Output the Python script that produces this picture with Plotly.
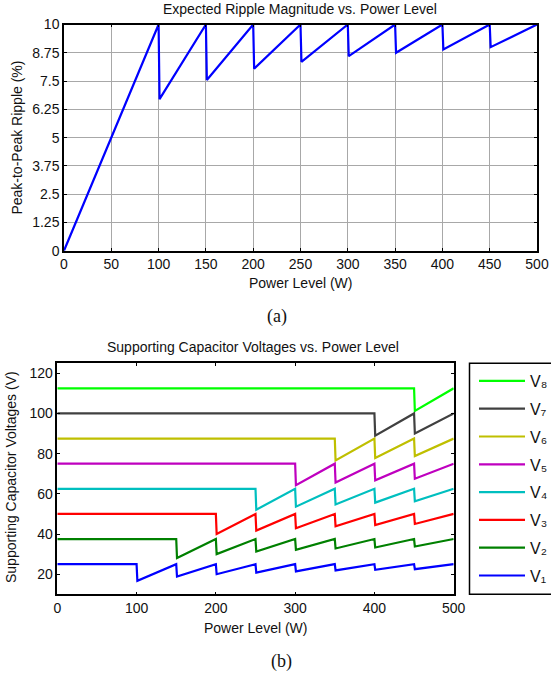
import plotly.graph_objects as go

W, H = 551, 679

# ---------- data ----------
# (a) expected ripple magnitude, vertices of the piecewise-linear curve
power_a = [0, 100, 101, 150, 151, 200, 201, 250, 251, 300, 301, 350, 351, 400, 401, 450, 451, 500]
ripple_a = [0, 10, 6.7, 10, 7.55, 10, 8.05, 10, 8.35, 10, 8.6, 10, 8.75, 10, 8.9, 10, 9.0, 10]

# (b) supporting capacitor voltages, vertices for each series
v1_x = [0, 100, 101, 150, 151, 200, 201, 250, 251, 300, 301, 350, 351, 400, 401, 450, 451, 500]
v1_y = [25, 25, 16.7, 25, 18.8, 25, 20, 25, 20.8, 25, 21.4, 25, 21.9, 25, 22.2, 25, 22.5, 25]
v2_x = [0, 150, 151, 200, 201, 250, 251, 300, 301, 350, 351, 400, 401, 450, 451, 500]
v2_y = [37.5, 37.5, 28.1, 37.5, 30, 37.5, 31.3, 37.5, 32.1, 37.5, 32.8, 37.5, 33.3, 37.5, 33.8, 37.5]
v3_x = [0, 200, 201, 250, 251, 300, 301, 350, 351, 400, 401, 450, 451, 500]
v3_y = [50, 50, 40, 50, 41.7, 50, 42.9, 50, 43.8, 50, 44.4, 50, 45, 50]
v4_x = [0, 250, 251, 300, 301, 350, 351, 400, 401, 450, 451, 500]
v4_y = [62.5, 62.5, 52.1, 62.5, 53.6, 62.5, 54.7, 62.5, 55.6, 62.5, 56.3, 62.5]
v5_x = [0, 300, 301, 350, 351, 400, 401, 450, 451, 500]
v5_y = [75, 75, 64.3, 75, 65.6, 75, 66.7, 75, 67.5, 75]
v6_x = [0, 350, 351, 400, 401, 450, 451, 500]
v6_y = [87.5, 87.5, 76.6, 87.5, 77.8, 87.5, 78.8, 87.5]
v7_x = [0, 400, 401, 450, 451, 500]
v7_y = [100, 100, 88.9, 100, 90, 100]
v8_x = [0, 450, 451, 500]
v8_y = [112.5, 112.5, 101.3, 112.5]

series_names = ["V₁", "V₂", "V₃", "V₄", "V₅", "V₆", "V₇", "V₈"]
series_x = [v1_x, v2_x, v3_x, v4_x, v5_x, v6_x, v7_x, v8_x]
series_y = [v1_y, v2_y, v3_y, v4_y, v5_y, v6_y, v7_y, v8_y]
series_colors = ["#0000ff", "#008000", "#ff0000", "#00bfbf",
                 "#bf00bf", "#bfbf00", "#404040", "#00ff00"]

ticks_a_x = [0, 50, 100, 150, 200, 250, 300, 350, 400, 450, 500]
ticks_a_y = [0, 1.25, 2.5, 3.75, 5, 6.25, 7.5, 8.75, 10]
ticks_a_y_text = ["0", "1.25", "2.5", "3.75", "5", "6.25", "7.5", "8.75", "10"]
ticks_b_x = [0, 100, 200, 300, 400, 500]
ticks_b_y = [20, 40, 60, 80, 100, 120]

# ---------- helpers ----------
def px(x):
    return x / W

def py(y):
    return 1 - y / H

FONT = "Liberation Sans, Arial, sans-serif"
SERIF = "Liberation Serif, Times New Roman, serif"

fig = go.Figure()

fig.add_trace(go.Scatter(x=power_a, y=ripple_a, mode="lines",
                         line=dict(color="#0000ff", width=2.2),
                         showlegend=False, xaxis="x", yaxis="y"))

# add V8 first so that the legend lists V8 at the top
for i in reversed(range(8)):
    fig.add_trace(go.Scatter(x=series_x[i], y=series_y[i], mode="lines",
                             name=series_names[i],
                             line=dict(color=series_colors[i], width=2.2),
                             legendgroup="g%d" % i,
                             xaxis="x2", yaxis="y2"))

axis_common = dict(showline=True, linecolor="black", linewidth=1.5, mirror="ticks",
                   ticks="inside", ticklen=3, tickcolor="black", tickwidth=1,
                   zeroline=False, tickfont=dict(family=FONT, size=14, color="#111"))

fig.update_layout(
    width=W, height=H,
    margin=dict(l=0, r=0, t=0, b=0, autoexpand=False),
    paper_bgcolor="white", plot_bgcolor="white",
    font=dict(family=FONT, size=14, color="#111"),
    xaxis=dict(domain=[px(64), px(537)], range=[0, 500], tickvals=ticks_a_x,
               showgrid=True, gridcolor="#a8a8a8", gridwidth=1, anchor="y", **axis_common),
    yaxis=dict(domain=[py(250.7), py(24.5)], range=[0, 10], tickvals=ticks_a_y,
               ticktext=ticks_a_y_text,
               showgrid=True, gridcolor="#a8a8a8", gridwidth=1, anchor="x", **axis_common),
    xaxis2=dict(domain=[px(57.3), px(453.7)], range=[0, 500], tickvals=ticks_b_x,
                showgrid=False, anchor="y2", **axis_common),
    yaxis2=dict(domain=[py(594.3), py(363.2)], range=[10, 125], tickvals=ticks_b_y,
                showgrid=False, anchor="x2", **axis_common),
    showlegend=True,
    legend=dict(x=px(474), xanchor="left", y=py(364), yanchor="top",
                traceorder="grouped", tracegroupgap=4,
                bgcolor="rgba(0,0,0,0)", borderwidth=0,
                font=dict(family=FONT, size=16, color="#111"),
                itemwidth=46),
)

# legend frame
fig.add_shape(type="rect", xref="paper", yref="paper",
              x0=px(469.5), x1=px(560), y0=py(594.3), y1=py(363.3),
              line=dict(color="black", width=1.5), fillcolor="rgba(0,0,0,0)")

ann = [
    dict(text="Expected Ripple Magnitude vs. Power Level", x=px(300), y=py(9), size=14, font=FONT),
    dict(text="Power Level (W)", x=px(300), y=py(283), size=14, font=FONT),
    dict(text="(a)", x=px(277), y=py(316), size=18, font=SERIF),
    dict(text="Supporting Capacitor Voltages vs. Power Level", x=px(253), y=py(347), size=14, font=FONT),
    dict(text="Power Level (W)", x=px(255.5), y=py(628), size=14, font=FONT),
    dict(text="(b)", x=px(281.5), y=py(661), size=18, font=SERIF),
]
for a in ann:
    fig.add_annotation(text=a["text"], x=a["x"], y=a["y"], xref="paper", yref="paper",
                       xanchor="center", yanchor="middle", showarrow=False,
                       font=dict(family=a["font"], size=a["size"], color="#111"))

fig.add_annotation(text="Peak-to-Peak Ripple (%)", x=px(17), y=py(137.6), xref="paper", yref="paper",
                   xanchor="center", yanchor="middle", showarrow=False, textangle=-90,
                   font=dict(family=FONT, size=14, color="#111"))
fig.add_annotation(text="Supporting Capacitor Voltages (V)", x=px(11), y=py(477), xref="paper", yref="paper",
                   xanchor="center", yanchor="middle", showarrow=False, textangle=-90,
                   font=dict(family=FONT, size=14, color="#111"))

fig.write_html("out.html")
